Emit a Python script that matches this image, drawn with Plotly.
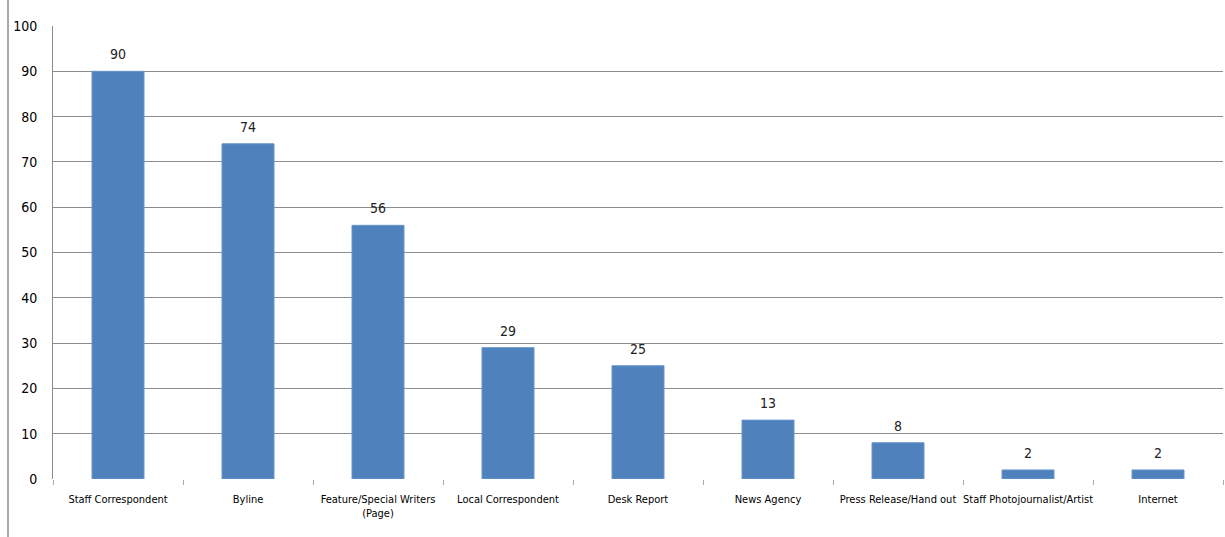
import plotly.graph_objects as go

categories = ["Staff Correspondent", "Byline", "Feature/Special Writers<br>(Page)",
              "Local Correspondent", "Desk Report", "News Agency",
              "Press Release/Hand out", "Staff Photojournalist/Artist", "Internet"]
values = [90, 74, 56, 29, 25, 13, 8, 2, 2]
y_ticks = [0, 10, 20, 30, 40, 50, 60, 70, 80, 90, 100]

FONT = "DejaVu Sans Condensed, Liberation Sans Narrow, sans-serif"

fig = go.Figure(go.Bar(
    x=categories, y=values,
    marker=dict(color="#4F81BD", line=dict(color="#6A96CC", width=1)),
    hoverinfo="skip",
))

for c, v in zip(categories, values):
    fig.add_annotation(x=c, y=v, text=str(v), showarrow=False, yanchor="bottom",
                       yshift=7, font=dict(family=FONT, size=14, color="#222222"))

fig.update_layout(
    width=1225, height=537,
    margin=dict(l=53, r=2, t=26, b=58),
    paper_bgcolor="white", plot_bgcolor="white",
    bargap=0.6, showlegend=False,
    font=dict(family=FONT, color="#000000"),
    shapes=[dict(type="line", xref="paper", yref="paper",
                 x0=-45/1170, x1=-45/1170,
                 y0=-58/453, y1=(453 + 26) / 453,
                 line=dict(color="#8C8C8C", width=1.5))],
)
fig.update_xaxes(
    showgrid=False, showline=False, automargin=False, tickangle=0,
    ticks="outside", tickson="boundaries", ticklen=5, tickcolor="#AAAAAA",
    tickfont=dict(family=FONT, size=11, color="#000000"),
    ticklabelstandoff=12,
)
fig.update_yaxes(
    range=[0, 100], tickvals=y_ticks, showgrid=True, gridcolor="#8C8C8C", gridwidth=1,
    showline=True, linecolor="#8C8C8C", linewidth=1, zeroline=False, automargin=False,
    ticks="", tickfont=dict(family=FONT, size=14, color="#000000"),
    ticklabelstandoff=12,
)

fig.write_html("out.html")
